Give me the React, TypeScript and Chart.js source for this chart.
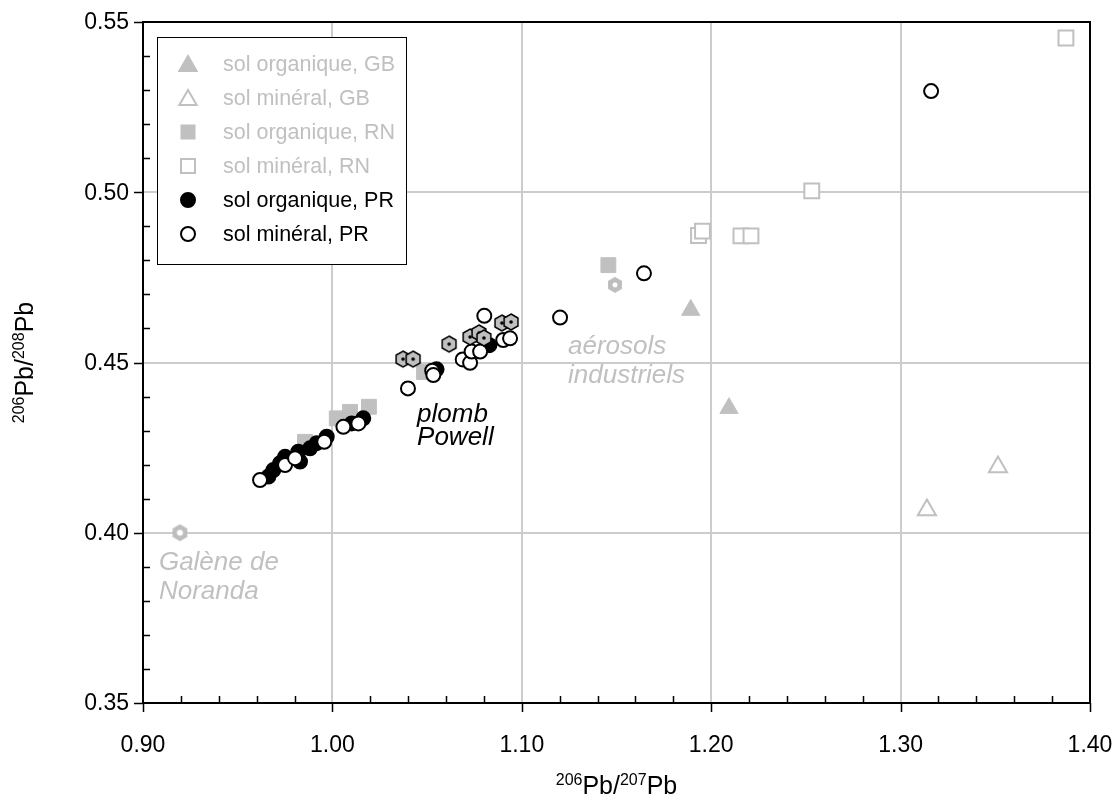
import React, { useEffect, useRef } from "react";
import { Chart, registerables } from "chart.js";

Chart.register(...registerables);

const GRAY = "#c0c0c0";
const FONT = "'Liberation Sans', Arial, Helvetica, sans-serif";

// ---- data (206Pb/207Pb , 206Pb/208Pb) ----
const gbOrgX = [1.1892, 1.2094];
const gbOrgY = [0.4654, 0.4366];
const gbMinX = [1.3139, 1.3514];
const gbMinY = [0.4067, 0.4193];
const rnOrgX = [0.9855, 1.0023, 1.0093, 1.0193, 1.0484, 1.1457];
const rnOrgY = [0.4267, 0.4336, 0.4355, 0.437, 0.4472, 0.4786];
const rnMinX = [1.1933, 1.1954, 1.2157, 1.221, 1.2531, 1.3873];
const rnMinY = [0.4873, 0.4886, 0.4872, 0.4872, 0.5004, 0.5453];
const prOrgX = [0.9662, 0.9688, 0.9723, 0.975, 0.982, 0.9829, 0.9882, 0.9917, 0.997, 1.0102, 1.0163, 1.055, 1.0829];
const prOrgY = [0.4165, 0.4184, 0.4204, 0.4223, 0.4238, 0.4209, 0.4248, 0.4263, 0.4282, 0.4321, 0.4336, 0.448, 0.4551];
const prMinX = [0.9618, 0.975, 0.9803, 0.9957, 1.0058, 1.0137, 1.0399, 1.0527, 1.0533, 1.0688, 1.0727, 1.0735, 1.078, 1.0802, 1.0902, 1.0938, 1.1202, 1.1645, 1.3161];
const prMinY = [0.4155, 0.4199, 0.4219, 0.4267, 0.4311, 0.4321, 0.4424, 0.4476, 0.4463, 0.4509, 0.4499, 0.4532, 0.4532, 0.4637, 0.4566, 0.4571, 0.4632, 0.4762, 0.5297];
const powellX = [1.0373, 1.0426, 1.0616, 1.0727, 1.0774, 1.08, 1.0895, 1.0943];
const powellY = [0.451, 0.451, 0.4554, 0.4575, 0.4587, 0.4572, 0.4616, 0.4619];
const norandaX = [0.9195];
const norandaY = [0.4];
const aerosolX = [1.1492];
const aerosolY = [0.4728];

const xTicks = [0.9, 1.0, 1.1, 1.2, 1.3, 1.4];
const yTicks = [0.35, 0.4, 0.45, 0.5, 0.55];

const legendLabels = [
  "sol organique, GB",
  "sol minéral, GB",
  "sol organique, RN",
  "sol minéral, RN",
  "sol organique, PR",
  "sol minéral, PR",
];

const annotations = [
  { text: "Galène de", x: 0.9084, y: 0.3911, color: GRAY },
  { text: "Noranda", x: 0.9084, y: 0.3826, color: GRAY },
  { text: "plomb", x: 1.0447, y: 0.4346, color: "#000" },
  { text: "Powell", x: 1.0447, y: 0.4278, color: "#000" },
  { text: "aérosols", x: 1.1244, y: 0.4546, color: GRAY },
  { text: "industriels", x: 1.1244, y: 0.446, color: GRAY },
];

const zip = (xs: number[], ys: number[]) => xs.map((x, i) => ({ x, y: ys[i] }));

function hexPath(ctx: CanvasRenderingContext2D, cx: number, cy: number, r: number) {
  ctx.beginPath();
  for (let i = 0; i < 6; i++) {
    const a = -Math.PI / 2 + (i * Math.PI) / 3;
    const px = cx + r * Math.cos(a);
    const py = cy + r * Math.sin(a);
    if (i === 0) ctx.moveTo(px, py);
    else ctx.lineTo(px, py);
  }
  ctx.closePath();
}

function makeHex(r: number, fill: string, stroke: string | null, dot: string, dotR: number) {
  const c = document.createElement("canvas");
  const s = Math.ceil(2 * r + 4);
  c.width = s;
  c.height = s;
  const ctx = c.getContext("2d")!;
  hexPath(ctx, s / 2, s / 2, r);
  ctx.fillStyle = fill;
  ctx.fill();
  if (stroke) {
    ctx.lineWidth = 1.5;
    ctx.strokeStyle = stroke;
    ctx.stroke();
  }
  ctx.beginPath();
  ctx.arc(s / 2, s / 2, dotR, 0, Math.PI * 2);
  ctx.fillStyle = dot;
  ctx.fill();
  return c;
}

function drawTri(ctx: CanvasRenderingContext2D, x: number, y: number, r: number, fill: string | null, stroke: string) {
  ctx.beginPath();
  for (let i = 0; i < 3; i++) {
    const a = -Math.PI / 2 + (i * 2 * Math.PI) / 3;
    const px = x + r * Math.cos(a);
    const py = y + r * Math.sin(a);
    if (i === 0) ctx.moveTo(px, py);
    else ctx.lineTo(px, py);
  }
  ctx.closePath();
  if (fill) {
    ctx.fillStyle = fill;
    ctx.fill();
  }
  ctx.lineWidth = 2;
  ctx.strokeStyle = stroke;
  ctx.stroke();
}

function drawSup(ctx: CanvasRenderingContext2D, parts: { t: string; sup: boolean }[], cx: number, baseline: number) {
  const big = `25px ${FONT}`;
  const small = `16px ${FONT}`;
  let total = 0;
  const widths = parts.map((p) => {
    ctx.font = p.sup ? small : big;
    const w = ctx.measureText(p.t).width;
    total += w;
    return w;
  });
  let x = cx - total / 2;
  ctx.textAlign = "left";
  ctx.textBaseline = "alphabetic";
  ctx.fillStyle = "#000";
  parts.forEach((p, i) => {
    ctx.font = p.sup ? small : big;
    ctx.fillText(p.t, x, p.sup ? baseline - 9 : baseline);
    x += widths[i];
  });
}

const decorPlugin = {
  id: "decor",
  afterDatasetsDraw(chart: any) {
    const ctx: CanvasRenderingContext2D = chart.ctx;
    const { left, top } = chart.chartArea;
    const xs = chart.scales.x;
    const ys = chart.scales.y;
    ctx.save();
    // annotations
    ctx.font = `italic 26px ${FONT}`;
    ctx.textAlign = "left";
    ctx.textBaseline = "middle";
    annotations.forEach((a) => {
      ctx.fillStyle = a.color;
      ctx.fillText(a.text, xs.getPixelForValue(a.x), ys.getPixelForValue(a.y));
    });
    // legend box
    const bx = left + 14;
    const by = top + 15;
    const bw = 249;
    const bh = 227;
    ctx.fillStyle = "#fff";
    ctx.fillRect(bx, by, bw, bh);
    ctx.lineWidth = 1;
    ctx.strokeStyle = "#000";
    ctx.strokeRect(bx + 0.5, by + 0.5, bw, bh);
    const mx = bx + 31;
    const tx = bx + 66;
    ctx.font = `21.5px ${FONT}`;
    ctx.textBaseline = "middle";
    legendLabels.forEach((label, i) => {
      const y = by + 27 + 34 * i;
      if (i === 0) drawTri(ctx, mx, y + 2, 10, GRAY, GRAY);
      if (i === 1) drawTri(ctx, mx, y + 2, 10, "#fff", GRAY);
      if (i === 2) {
        ctx.fillStyle = GRAY;
        ctx.fillRect(mx - 7.5, y - 7.5, 15, 15);
      }
      if (i === 3) {
        ctx.fillStyle = "#fff";
        ctx.fillRect(mx - 7, y - 7, 14, 14);
        ctx.lineWidth = 2;
        ctx.strokeStyle = GRAY;
        ctx.strokeRect(mx - 7, y - 7, 14, 14);
      }
      if (i === 4 || i === 5) {
        ctx.beginPath();
        ctx.arc(mx, y, 7, 0, Math.PI * 2);
        ctx.fillStyle = i === 4 ? "#000" : "#fff";
        ctx.fill();
        ctx.lineWidth = 2;
        ctx.strokeStyle = "#000";
        ctx.stroke();
      }
      ctx.fillStyle = i < 4 ? GRAY : "#000";
      ctx.fillText(label, tx, y + 1);
    });
    ctx.restore();
  },
  afterDraw(chart: any) {
    const ctx: CanvasRenderingContext2D = chart.ctx;
    const { left, right, top, bottom } = chart.chartArea;
    const xs = chart.scales.x;
    const ys = chart.scales.y;
    ctx.save();
    ctx.strokeStyle = "#000";
    ctx.lineWidth = 2;
    ctx.strokeRect(left, top, right - left, bottom - top);
    ctx.lineWidth = 1.5;
    ctx.beginPath();
    for (let i = 0; i <= 25; i++) {
      const v = 0.9 + i * 0.02;
      const px = Math.round(xs.getPixelForValue(v)) + 0.5;
      if (i % 5 === 0) {
        ctx.moveTo(px, bottom);
        ctx.lineTo(px, bottom + 9);
      } else {
        ctx.moveTo(px, bottom);
        ctx.lineTo(px, bottom - 7);
      }
    }
    for (let i = 0; i <= 20; i++) {
      const v = 0.35 + i * 0.01;
      const py = Math.round(ys.getPixelForValue(v)) + 0.5;
      if (i % 5 === 0) {
        ctx.moveTo(left - 9, py);
        ctx.lineTo(left, py);
      } else {
        ctx.moveTo(left, py);
        ctx.lineTo(left + 7, py);
      }
    }
    ctx.stroke();
    // tick labels
    ctx.fillStyle = "#000";
    ctx.font = `23px ${FONT}`;
    ctx.textBaseline = "middle";
    ctx.textAlign = "center";
    xTicks.forEach((v) => {
      ctx.fillText(v.toFixed(2), xs.getPixelForValue(v), bottom + 43);
    });
    ctx.textAlign = "right";
    yTicks.forEach((v) => {
      ctx.fillText(v.toFixed(2), left - 14, ys.getPixelForValue(v) + 1);
    });
    // axis titles
    drawSup(
      ctx,
      [
        { t: "206", sup: true },
        { t: "Pb/", sup: false },
        { t: "207", sup: true },
        { t: "Pb", sup: false },
      ],
      (left + right) / 2,
      794
    );
    ctx.save();
    ctx.translate(33, (top + bottom) / 2);
    ctx.rotate(-Math.PI / 2);
    drawSup(
      ctx,
      [
        { t: "206", sup: true },
        { t: "Pb/", sup: false },
        { t: "208", sup: true },
        { t: "Pb", sup: false },
      ],
      0,
      0
    );
    ctx.restore();
    ctx.restore();
  },
};

export default function App() {
  const ref = useRef<HTMLCanvasElement | null>(null);
  useEffect(() => {
    document.body.style.margin = "0";
    if (!ref.current) return;
    const powellHex = makeHex(8, GRAY, "#000", "#000", 1.8);
    const norandaHex = makeHex(8.5, "#bdbdbd", null, "#fff", 3);
    const aerosolHex = makeHex(8, "#bdbdbd", null, "#fff", 2.5);
    const chart = new Chart(ref.current, {
      type: "scatter",
      data: {
        datasets: [
          { label: "powell", data: zip(powellX, powellY), pointStyle: powellHex as any, radius: 8, order: 0 },
          { label: "noranda", data: zip(norandaX, norandaY), pointStyle: norandaHex as any, radius: 8, order: 0 },
          { label: "aerosol", data: zip(aerosolX, aerosolY), pointStyle: aerosolHex as any, radius: 8, order: 0 },
          {
            label: legendLabels[5], data: zip(prMinX, prMinY), pointStyle: "circle", radius: 7,
            backgroundColor: "#fff", borderColor: "#000", borderWidth: 2, order: 1,
          },
          {
            label: legendLabels[4], data: zip(prOrgX, prOrgY), pointStyle: "circle", radius: 7,
            backgroundColor: "#000", borderColor: "#000", borderWidth: 2, order: 2,
          },
          {
            label: legendLabels[0], data: zip(gbOrgX, gbOrgY), pointStyle: "triangle", radius: 10.5,
            backgroundColor: GRAY, borderColor: GRAY, borderWidth: 1, order: 3,
          },
          {
            label: legendLabels[1], data: zip(gbMinX, gbMinY), pointStyle: "triangle", radius: 10.5,
            backgroundColor: "#fff", borderColor: GRAY, borderWidth: 2, order: 3,
          },
          {
            label: legendLabels[3], data: zip(rnMinX, rnMinY), pointStyle: "rect", radius: 10.5,
            backgroundColor: "#fff", borderColor: GRAY, borderWidth: 2, order: 4,
          },
          {
            label: legendLabels[2], data: zip(rnOrgX, rnOrgY), pointStyle: "rect", radius: 10.5,
            backgroundColor: GRAY, borderColor: GRAY, borderWidth: 1, order: 5,
          },
        ],
      },
      options: {
        responsive: false,
        animation: false,
        events: [],
        layout: { padding: { left: 0, top: 22, right: 27, bottom: 0 } },
        plugins: { legend: { display: false }, tooltip: { enabled: false } },
        scales: {
          x: {
            type: "linear",
            min: 0.9,
            max: 1.4,
            afterBuildTicks: (s: any) => {
              s.ticks = xTicks.map((v) => ({ value: v }));
            },
            afterFit: (s: any) => {
              s.height = 98;
            },
            ticks: { display: false },
            grid: { color: "#cccccc", lineWidth: 2, drawTicks: false },
            border: { display: false },
          },
          y: {
            type: "linear",
            min: 0.35,
            max: 0.55,
            afterBuildTicks: (s: any) => {
              s.ticks = yTicks.map((v) => ({ value: v }));
            },
            afterFit: (s: any) => {
              s.width = 143;
            },
            ticks: { display: false },
            grid: { color: "#cccccc", lineWidth: 2, drawTicks: false },
            border: { display: false },
          },
        },
      },
      plugins: [decorPlugin],
    });
    return () => chart.destroy();
  }, []);
  return (
    <div style={{ width: 1117, height: 801 }}>
      <canvas ref={ref} width={1117} height={801} style={{ display: "block" }} />
    </div>
  );
}
